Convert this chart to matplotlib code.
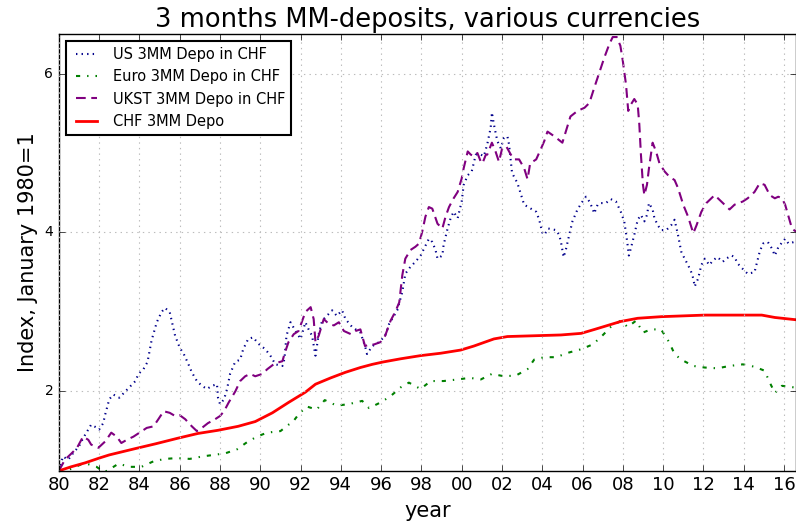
import matplotlib
matplotlib.use('Agg')
import matplotlib.pyplot as plt

# US 3MM deposit in CHF
us_years = [1980.0, 1980.2, 1980.46, 1980.7, 1981.0, 1981.2, 1981.46, 1981.6, 1981.9, 1982.0,
            1982.2, 1982.3, 1982.5, 1982.7, 1983.0, 1983.3, 1983.8, 1983.95, 1984.2, 1984.4,
            1984.6, 1984.86, 1985.1, 1985.27, 1985.5, 1985.6, 1985.77, 1986.0, 1986.2, 1986.4,
            1986.6, 1986.85, 1987.1, 1987.35, 1987.6, 1987.85, 1987.9, 1988.0, 1988.2, 1988.35,
            1988.5, 1988.75, 1989.0, 1989.15, 1989.4, 1989.65, 1989.9, 1990.25, 1990.5, 1990.75,
            1991.1, 1991.2, 1991.3, 1991.5, 1991.75, 1992.0, 1992.24, 1992.4, 1992.57, 1992.74,
            1992.9, 1993.07, 1993.3, 1993.57, 1993.8, 1994.06, 1994.23, 1994.56, 1994.97, 1995.2,
            1995.3, 1995.56, 1995.9, 1996.2, 1996.4, 1996.8, 1997.05, 1997.2, 1997.46, 1997.7,
            1997.96, 1998.37, 1998.54, 1998.7, 1998.8, 1999.04, 1999.1, 1999.3, 1999.45, 1999.6,
            1999.8, 2000.0, 2000.1, 2000.3, 2000.5, 2000.7, 2000.95, 2001.1, 2001.27, 2001.44,
            2001.5, 2001.6, 2001.77, 2001.94, 2002.1, 2002.27, 2002.35, 2002.5, 2002.77, 2003.1,
            2003.5, 2003.7, 2003.85, 2004.0, 2004.1, 2004.3, 2004.68, 2004.84, 2004.93, 2005.0,
            2005.06, 2005.17, 2005.34, 2005.5, 2005.75, 2006.0, 2006.17, 2006.34, 2006.5, 2006.58,
            2006.75, 2006.9, 2007.16, 2007.4, 2007.66, 2007.9, 2008.07, 2008.16, 2008.24, 2008.3,
            2008.4, 2008.57, 2008.74, 2008.9, 2009.07, 2009.2, 2009.3, 2009.48, 2009.57, 2009.74,
            2009.9, 2010.16, 2010.4, 2010.57, 2010.74, 2010.9, 2011.07, 2011.24, 2011.4, 2011.5,
            2011.57, 2011.74, 2011.9, 2012.07, 2012.3, 2012.48, 2012.7, 2012.96, 2013.13, 2013.4,
            2013.55, 2013.7, 2013.96, 2014.2, 2014.54, 2014.63, 2014.8, 2014.96, 2015.2, 2015.4,
            2015.55, 2015.73, 2016.06, 2016.23, 2016.5, 2016.65]
us_vals = [1.0, 1.18, 1.14, 1.22, 1.31, 1.41, 1.52, 1.58, 1.54, 1.52,
           1.60, 1.71, 1.90, 1.96, 1.92, 2.00, 2.13, 2.22, 2.28, 2.37,
           2.64, 2.87, 3.00, 3.05, 3.00, 2.89, 2.70, 2.55, 2.47, 2.36,
           2.24, 2.13, 2.07, 2.03, 2.07, 2.09, 1.92, 1.84, 1.90, 2.03,
           2.22, 2.37, 2.40, 2.53, 2.66, 2.68, 2.60, 2.53, 2.45, 2.34,
           2.32, 2.41, 2.70, 2.87, 2.76, 2.66, 2.87, 2.78, 2.70, 2.45,
           2.72, 2.89, 2.95, 3.02, 2.95, 3.02, 2.91, 2.81, 2.74, 2.57,
           2.47, 2.57, 2.62, 2.70, 2.85, 3.02, 3.25, 3.48, 3.57, 3.63,
           3.71, 3.92, 3.88, 3.78, 3.67, 3.71, 3.84, 4.05, 4.18, 4.26,
           4.18, 4.39, 4.60, 4.72, 4.77, 4.98, 4.98, 4.96, 5.11, 5.32,
           5.51, 5.36, 5.15, 5.06, 5.19, 5.21, 5.11, 4.75, 4.62, 4.35,
           4.29, 4.26, 4.16, 4.00, 3.97, 4.05, 4.03, 3.97, 3.88, 3.78,
           3.69, 3.78, 3.97, 4.14, 4.29, 4.39, 4.45, 4.39, 4.30, 4.24,
           4.35, 4.37, 4.37, 4.42, 4.39, 4.26, 4.14, 3.99, 3.84, 3.71,
           3.80, 3.97, 4.16, 4.22, 4.14, 4.22, 4.37, 4.29, 4.18, 4.09,
           4.03, 4.03, 4.09, 4.16, 3.97, 3.76, 3.67, 3.59, 3.50, 3.42,
           3.32, 3.42, 3.59, 3.67, 3.59, 3.65, 3.69, 3.63, 3.67, 3.71,
           3.69, 3.61, 3.54, 3.48, 3.50, 3.59, 3.76, 3.86, 3.88, 3.80,
           3.71, 3.82, 3.92, 3.86, 3.88, 3.88]

# Euro 3MM deposit in CHF
eur_years = [1980.0, 1980.46, 1981.1, 1981.37, 1981.87, 1982.2, 1982.4, 1982.96, 1983.5, 1983.95,
             1984.1, 1984.7, 1985.27, 1985.85, 1986.5, 1987.1, 1987.68, 1988.26, 1988.84, 1989.34,
             1989.83, 1990.33, 1991.0, 1991.4, 1991.57, 1991.9, 1992.3, 1992.8, 1993.2, 1993.8,
             1994.4, 1995.06, 1995.4, 1995.97, 1996.47, 1996.97, 1997.38, 1997.96, 1998.46, 1999.1,
             1999.8, 2000.4, 2000.95, 2001.5, 2002.1, 2002.7, 2003.27, 2003.6, 2004.1, 2004.68,
             2005.34, 2005.93, 2006.5, 2006.9, 2007.4, 2007.9, 2008.24, 2008.66, 2009.0, 2009.4,
             2009.9, 2010.3, 2010.57, 2010.9, 2011.5, 2012.07, 2012.7, 2013.3, 2013.96, 2014.54,
             2015.04, 2015.3, 2015.55, 2015.9, 2016.5, 2016.65]
eur_vals = [1.0, 1.01, 1.08, 1.09, 1.05, 0.99, 1.0, 1.09, 1.05, 1.05,
            1.05, 1.12, 1.15, 1.16, 1.15, 1.18, 1.20, 1.22, 1.27, 1.36,
            1.43, 1.48, 1.50, 1.58, 1.60, 1.71, 1.81, 1.77, 1.89, 1.82,
            1.84, 1.88, 1.79, 1.86, 1.94, 2.05, 2.11, 2.03, 2.13, 2.13,
            2.15, 2.17, 2.15, 2.22, 2.19, 2.20, 2.28, 2.40, 2.43, 2.43,
            2.49, 2.53, 2.59, 2.68, 2.81, 2.89, 2.81, 2.89, 2.74, 2.78,
            2.78, 2.62, 2.47, 2.40, 2.32, 2.30, 2.29, 2.32, 2.34, 2.31,
            2.26, 2.11, 1.98, 2.07, 2.05, 2.05]

# UK sterling 3MM deposit in CHF
uk_years = [1980.0, 1980.3, 1980.63, 1980.9, 1981.2, 1981.46, 1981.6, 1981.96, 1982.3, 1982.6,
            1982.87, 1983.1, 1983.37, 1983.7, 1984.0, 1984.36, 1984.7, 1984.94, 1985.2, 1985.5,
            1985.77, 1986.0, 1986.27, 1986.6, 1986.85, 1987.1, 1987.4, 1987.76, 1988.0, 1988.2,
            1988.43, 1988.76, 1989.0, 1989.25, 1989.5, 1989.75, 1990.1, 1990.35, 1990.66, 1990.83,
            1991.1, 1991.2, 1991.4, 1991.66, 1991.9, 1992.24, 1992.5, 1992.65, 1992.74, 1992.9,
            1993.15, 1993.4, 1993.65, 1993.9, 1994.15, 1994.5, 1994.73, 1994.97, 1995.2, 1995.4,
            1995.64, 1995.97, 1996.2, 1996.47, 1996.7, 1996.9, 1997.05, 1997.2, 1997.46, 1997.7,
            1997.88, 1998.04, 1998.2, 1998.37, 1998.54, 1998.8, 1999.04, 1999.2, 1999.37, 1999.6,
            1999.8, 2000.0, 2000.1, 2000.3, 2000.45, 2000.6, 2000.78, 2000.95, 2001.03, 2001.2,
            2001.27, 2001.5, 2001.68, 2001.85, 2002.0, 2002.2, 2002.44, 2002.6, 2002.85, 2003.1,
            2003.27, 2003.4, 2003.7, 2003.93, 2004.1, 2004.26, 2004.6, 2005.0, 2005.17, 2005.4,
            2005.75, 2006.1, 2006.34, 2006.58, 2006.83, 2007.08, 2007.33, 2007.5, 2007.7, 2007.88,
            2008.0, 2008.16, 2008.27, 2008.4, 2008.57, 2008.74, 2008.82, 2008.9, 2009.0, 2009.07,
            2009.2, 2009.3, 2009.48, 2009.65, 2009.82, 2010.07, 2010.32, 2010.57, 2010.74, 2011.0,
            2011.24, 2011.5, 2011.66, 2011.9, 2012.15, 2012.56, 2012.97, 2013.3, 2013.55, 2013.96,
            2014.2, 2014.54, 2014.8, 2015.04, 2015.3, 2015.55, 2015.72, 2015.9, 2016.06, 2016.23,
            2016.4, 2016.6]
uk_vals = [1.0, 1.14, 1.22, 1.29, 1.43, 1.39, 1.33, 1.29, 1.37, 1.48,
           1.43, 1.35, 1.39, 1.43, 1.48, 1.54, 1.56, 1.65, 1.75, 1.73,
           1.69, 1.70, 1.65, 1.56, 1.50, 1.54, 1.60, 1.65, 1.69, 1.75,
           1.86, 2.00, 2.13, 2.19, 2.22, 2.19, 2.22, 2.28, 2.34, 2.36,
           2.38, 2.47, 2.62, 2.72, 2.76, 3.00, 3.06, 2.91, 2.62, 2.70,
           2.91, 2.85, 2.83, 2.87, 2.76, 2.72, 2.76, 2.78, 2.57, 2.59,
           2.59, 2.62, 2.70, 2.89, 3.00, 3.12, 3.46, 3.67, 3.78, 3.82,
           3.86, 4.01, 4.20, 4.32, 4.30, 4.11, 4.05, 4.20, 4.32, 4.43,
           4.51, 4.68, 4.81, 5.02, 4.98, 4.96, 5.00, 4.89, 4.87, 4.98,
           4.98, 5.13, 5.02, 4.89, 5.05, 5.09, 4.98, 4.92, 4.92, 4.81,
           4.67, 4.87, 4.92, 5.05, 5.15, 5.27, 5.21, 5.13, 5.27, 5.46,
           5.53, 5.57, 5.63, 5.82, 6.01, 6.20, 6.37, 6.46, 6.46, 6.35,
           6.16, 5.86, 5.53, 5.61, 5.68, 5.61, 5.36, 4.98, 4.60, 4.47,
           4.60, 4.81, 5.13, 5.02, 4.87, 4.77, 4.70, 4.66, 4.56, 4.35,
           4.20, 3.99, 4.09, 4.26, 4.37, 4.47, 4.37, 4.29, 4.35, 4.39,
           4.43, 4.51, 4.62, 4.60, 4.47, 4.43, 4.45, 4.43, 4.35, 4.20,
           4.05, 4.01]

# CHF 3MM deposit
chf_years = [1980.0, 1980.6, 1981.3, 1982.0, 1982.5, 1983.8, 1984.8, 1985.9, 1986.9, 1987.9,
             1988.9, 1989.75, 1990.6, 1991.4, 1992.24, 1992.74, 1993.5, 1994.23, 1994.97, 1995.56,
             1996.1, 1996.97, 1997.96, 1998.96, 1999.95, 2000.6, 2001.6, 2002.27, 2003.6, 2004.93,
             2005.93, 2006.6, 2007.25, 2007.9, 2008.74, 2009.9, 2012.07, 2014.9, 2015.55, 2016.65]
chf_vals = [1.0, 1.05, 1.10, 1.16, 1.20, 1.28, 1.34, 1.41, 1.47, 1.51,
            1.56, 1.62, 1.73, 1.86, 1.99, 2.09, 2.17, 2.24, 2.30, 2.34,
            2.37, 2.41, 2.45, 2.48, 2.52, 2.57, 2.66, 2.69, 2.70, 2.71,
            2.73, 2.78, 2.83, 2.88, 2.92, 2.94, 2.96, 2.96, 2.93, 2.90]

tick_years = list(range(1980, 2017, 2))
tick_labels = ['80', '82', '84', '86', '88', '90', '92', '94', '96', '98',
               '00', '02', '04', '06', '08', '10', '12', '14', '16']

plt.style.use('classic')
plt.rcParams['font.family'] = 'DejaVu Sans'

fig = plt.figure(figsize=(7.96, 5.29), dpi=100, facecolor='white')
ax = fig.add_axes([0.074, 0.110, 0.926, 0.826])

ax.plot(us_years, us_vals, linestyle=':', color='darkblue', linewidth=1.5, label='US 3MM Depo in CHF')
ax.plot(eur_years, eur_vals, linestyle='-.', color='green', linewidth=1.5, label='Euro 3MM Depo in CHF')
ax.plot(uk_years, uk_vals, linestyle=(0, (7, 4)), color='purple', linewidth=1.5, label='UKST 3MM Depo in CHF')
ax.plot(chf_years, chf_vals, linestyle='-', color='red', linewidth=2, label='CHF 3MM Depo')

ax.set_xlim(1980, 2016.6)
ax.set_ylim(1, 6.5)
ax.set_xticks(tick_years)
ax.set_xticklabels(tick_labels, fontsize=13)
ax.set_yticks([2, 4, 6])
ax.tick_params(axis='y', labelsize=10)
ax.grid(True, linestyle=':', color='#bbbbbb', linewidth=0.8)

ax.set_title('3 months MM-deposits, various currencies', fontsize=18.5)
ax.set_xlabel('year', fontsize=15)
ax.set_ylabel('Index, January 1980=1', fontsize=15)

leg = ax.legend(loc='upper left', fontsize=10.5, handlelength=2.0)
leg.get_frame().set_linewidth(1.5)

fig.savefig('out.png', dpi=100, facecolor='white')
